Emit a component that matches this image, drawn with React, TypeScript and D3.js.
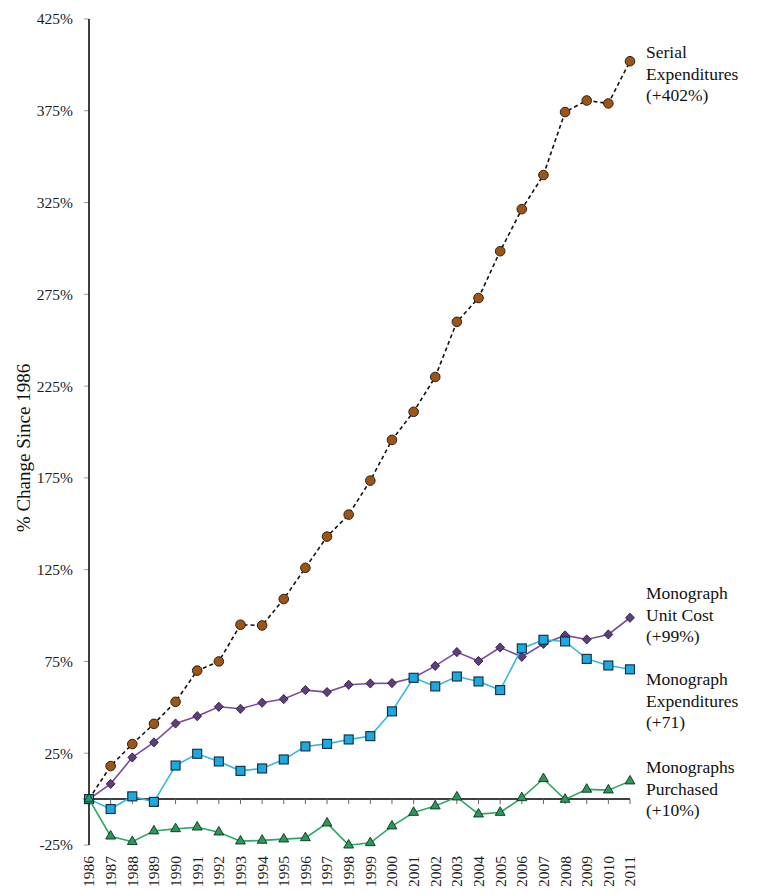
import React from "react";
import * as d3 from "d3";

const years = [1986,1987,1988,1989,1990,1991,1992,1993,1994,1995,1996,1997,1998,1999,2000,2001,2002,2003,2004,2005,2006,2007,2008,2009,2010,2011];

const serialExpenditures = [0,18,30,41,53,70,75,95,94.6,109,126,143,155,173.5,195.7,211,230,260,273,298.5,321.4,340,374.3,380.6,379,402];
const monographUnitCost = [0,8.3,22.7,30.9,41.2,45.2,50.3,49.2,52.5,54.5,59.4,58.3,62.3,63,63.2,66.1,72.6,80.1,75.2,82.6,77.5,84.6,89.2,87,89.7,98.8];
const monographExpenditures = [0,-5.4,1.5,-1.5,18.3,24.7,20.5,15.4,16.7,21.6,28.7,30.1,32.5,34.3,47.8,66.1,61.4,66.8,64.1,59.4,82.1,86.8,85.9,76.4,72.8,70.7];
const monographsPurchased = [0,-20.2,-23.2,-17.4,-16.2,-15.3,-18,-22.9,-22.5,-21.8,-21.1,-13.1,-25.1,-23.8,-14.7,-7.3,-3.8,1.1,-8.2,-7.3,0.7,11.1,-0.2,5.3,4.9,9.8];

const yTicks = [-25,25,75,125,175,225,275,325,375,425];

const serialLabel = ["Serial", "Expenditures", "(+402%)"];
const unitCostLabel = ["Monograph", "Unit Cost", "(+99%)"];
const expLabel = ["Monograph", "Expenditures", "(+71)"];
const purchLabel = ["Monographs", "Purchased", "(+10%)"];

const FONT = "'Liberation Serif', 'Times New Roman', serif";

export default function App() {
  const x = d3.scaleLinear().domain([1986, 2011]).range([89, 630]);
  const y = d3.scaleLinear().domain([-25, 425]).range([845, 19]);
  const line = (vals: number[]) =>
    d3.line<number>().x((_, i) => x(years[i])).y((v) => y(v))(vals) || "";

  const diamond = "M0,-4.6L4.4,0L0,4.6L-4.4,0Z";
  const triangle = d3.symbol().type(d3.symbolTriangle).size(42)() || "";

  const label = (lines: string[], baseY: number) => (
    <text x={646} y={baseY} fontFamily={FONT} fontSize={17.5} fill="#111">
      {lines.map((l, i) => (
        <tspan key={i} x={646} dy={i === 0 ? 0 : 21.6}>{l}</tspan>
      ))}
    </text>
  );

  return (
    <svg width={766} height={894} style={{ position: "absolute", left: 0, top: 0, background: "#fff" }}>
      {yTicks.map((t) => (
        <g key={t}>
          <line x1={84} x2={89} y1={y(t)} y2={y(t)} stroke="#999" strokeWidth={1} />
          <text x={73} y={y(t)} dy="0.35em" textAnchor="end" fontFamily={FONT} fontSize={15.5} fill="#1a1a1a">
            {t}%
          </text>
        </g>
      ))}
      <line x1={89} x2={89} y1={y(425)} y2={y(-25)} stroke="#000" strokeWidth={1.5} />
      <line x1={89} x2={630} y1={y(0)} y2={y(0)} stroke="#000" strokeWidth={1.5} />
      {years.map((yr) => (
        <g key={yr}>
          <line x1={x(yr)} x2={x(yr)} y1={y(0)} y2={y(0) + 5} stroke="#666" strokeWidth={1} />
          <text
            transform={`translate(${x(yr)},856) rotate(-90)`}
            textAnchor="end"
            dy="0.35em"
            fontFamily={FONT}
            fontSize={15.5}
            fill="#1a1a1a"
          >
            {yr}
          </text>
        </g>
      ))}
      <text
        transform="translate(23,448) rotate(-90)"
        textAnchor="middle"
        dy="0.35em"
        fontFamily={FONT}
        fontSize={19}
        fill="#111"
      >
        % Change Since 1986
      </text>

      <path d={line(serialExpenditures)} fill="none" stroke="#111" strokeWidth={1.6} strokeDasharray="4,3" />
      {serialExpenditures.map((v, i) => (
        <circle key={i} cx={x(years[i])} cy={y(v)} r={4.8} fill="#9c5518" stroke="#2f2010" strokeWidth={1} />
      ))}

      <path d={line(monographUnitCost)} fill="none" stroke="#7a4c9e" strokeWidth={1.6} />
      {monographUnitCost.map((v, i) => (
        <path key={i} d={diamond} transform={`translate(${x(years[i])},${y(v)})`} fill="#5d3e7e" stroke="#2a1c3a" strokeWidth={0.9} />
      ))}

      <path d={line(monographExpenditures)} fill="none" stroke="#35b7dd" strokeWidth={1.6} />
      {monographExpenditures.map((v, i) => (
        <rect key={i} x={x(years[i]) - 4.5} y={y(v) - 4.5} width={9} height={9} fill="#1ba9e1" stroke="#13283a" strokeWidth={1.1} />
      ))}

      <path d={line(monographsPurchased)} fill="none" stroke="#2aa865" strokeWidth={1.6} />
      {monographsPurchased.map((v, i) => (
        <path key={i} d={triangle} transform={`translate(${x(years[i])},${y(v)})`} fill="#2a9a5b" stroke="#10301c" strokeWidth={0.9} />
      ))}

      {label(serialLabel, 58)}
      {label(unitCostLabel, 599)}
      {label(expLabel, 685)}
      {label(purchLabel, 773)}
    </svg>
  );
}
